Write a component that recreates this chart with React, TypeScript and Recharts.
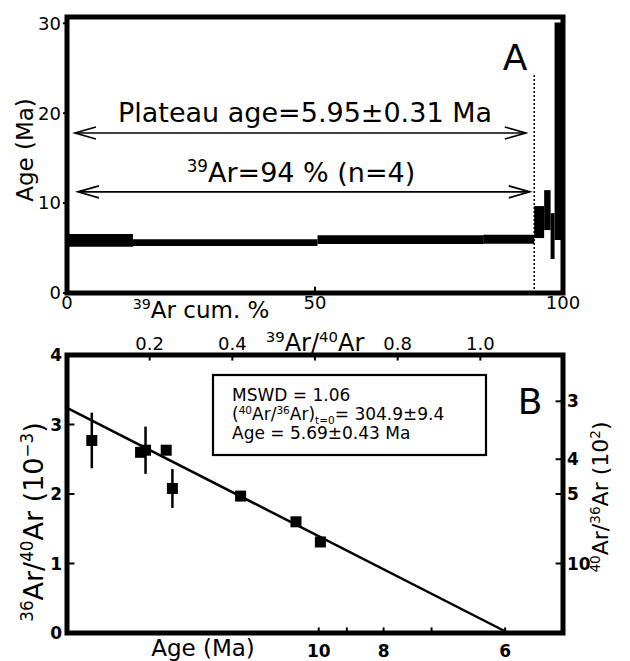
import React from 'react'
import { ComposedChart, XAxis, YAxis, ReferenceArea, ReferenceLine, Scatter, ErrorBar } from 'recharts'

const FONT = 'DejaVu Sans'

// Panel A – age spectrum steps (39Ar cum. %, age in Ma)
const stepStart = [0, 13.3, 50.5, 83.9, 94.2, 96.2, 97.5, 98.3]
const stepEnd = [13.3, 50.5, 83.9, 94.2, 96.2, 97.5, 98.3, 100]
const stepAge = [5.85, 5.6, 5.93, 5.98, 7.89, 9.22, 6.33, 18.0]
const stepErr = [0.7, 0.37, 0.48, 0.5, 1.78, 2.22, 2.55, 12.1]
const cumTicks = [0, 50, 100]
const ageTicksA = [0, 10, 20, 30]
const arrowAge = [17.8, 11.25]
const arrowFrom = [1.6, 2.2]
const arrowTo = [92.5, 93.3]
const plateauEnd = 94.2

// Panel B – isochron
const ratio39 = [0.06, 0.178, 0.19, 0.24, 0.255, 0.42, 0.554, 0.613]
const ratio36 = [2.77, 2.6, 2.63, 2.63, 2.08, 1.97, 1.6, 1.31]
const ratio36Err = [0.4, 0, 0.34, 0, 0.28, 0, 0, 0]
const fitIntercept = 3.24
const fitXIntercept = 1.068
const topTicks = [0.2, 0.4, 0.6, 0.8, 1.0]
const topLabels = ['0.2', '0.4', '', '0.8', '1.0']
const leftTicks = [0, 1, 2, 3, 4]
const ageTickPos = [0.609, 0.677, 0.766, 0.882, 1.06]
const ageTickLabels = ['10', '', '8', '', '6']
const ratioTicks = [3, 4, 5, 10]

const steps = stepStart.map((s, i) => ({ x1: s, x2: stepEnd[i], mid: (s + stepEnd[i]) / 2, age: stepAge[i], lo: stepAge[i] - stepErr[i], hi: stepAge[i] + stepErr[i] }))
const points = ratio39.map((x, i) => ({ x, y: ratio36[i], err: ratio36Err[i] }))
const ratioPos = ratioTicks.map((v) => 10 / v)

type Seg = [string, 'n' | 'sup' | 'sub']
const rich = (segs: Seg[], f: number) => {
  let cur = 0
  return segs.map(([t, k], i) => {
    const target = k === 'sup' ? -0.38 * f : k === 'sub' ? 0.25 * f : 0
    const dy = target - cur
    cur = target
    return <tspan key={i} dy={dy} fontSize={k === 'n' ? f : f * 0.62}>{t}</tspan>
  })
}

const arrowShape = (p: any) => {
  const { x1, y1, x2, y2 } = p
  const h = 21
  const w = 6
  return (
    <g stroke="#000" strokeWidth={1.6} fill="none">
      <line x1={x1} y1={y1} x2={x2} y2={y2} />
      <polyline points={`${x1 + h},${y1 - w} ${x1},${y1} ${x1 + h},${y1 + w}`} />
      <polyline points={`${x2 - h},${y2 - w} ${x2},${y2} ${x2 - h},${y2 + w}`} />
    </g>
  )
}

const square = (p: any) => <rect x={p.cx - 5.5} y={p.cy - 5.5} width={11} height={11} fill="#000" />
const nothing = () => <g />

const PanelA = () => (
  <ComposedChart width={630} height={325} data={steps} margin={{ top: 17, right: 67, bottom: 0, left: 0 }}>
    <XAxis type="number" dataKey="mid" domain={[0, 100]} ticks={cumTicks} height={32} tickLine={false} axisLine={false}
      tickSize={0} tickMargin={3} tick={{ fill: '#000', fontSize: 18, fontFamily: FONT }} />
    <YAxis type="number" dataKey="age" domain={[0, 30.7]} ticks={ageTicksA} width={67} axisLine={false} tickSize={4} tickMargin={2}
      tickLine={{ stroke: '#000', strokeWidth: 2 }} tick={{ fill: '#000', fontSize: 18, fontFamily: FONT }} />
    <Scatter data={steps} dataKey="age" shape={nothing} isAnimationActive={false} />
    {steps.map((s, i) => (
      <ReferenceArea key={i} x1={s.x1} x2={s.x2} y1={s.lo} y2={s.hi} fill="#000" fillOpacity={1} stroke="none" ifOverflow="visible" />
    ))}
    <ReferenceLine segment={[{ x: plateauEnd, y: 0 }, { x: plateauEnd, y: 24.4 }]} stroke="#000" strokeWidth={1.5} strokeDasharray="2 2" ifOverflow="visible" />
    {arrowAge.map((a, i) => (
      <ReferenceLine key={i} segment={[{ x: arrowFrom[i], y: a }, { x: arrowTo[i], y: a }]} shape={arrowShape} ifOverflow="visible" />
    ))}
    <ReferenceLine segment={[{ x: 50, y: 0 }, { x: 50, y: 0.7 }]} stroke="#000" strokeWidth={2} ifOverflow="visible" />
    <ReferenceArea x1={0} x2={100} y1={0} y2={30.7} fill="none" stroke="#000" strokeWidth={5} ifOverflow="visible" />
    <text x={305} y={122} textAnchor="middle" fontSize={27} fontFamily={FONT}>Plateau age=5.95±0.31 Ma</text>
    <text x={301} y={182} textAnchor="middle" fontSize={27} fontFamily={FONT}>{rich([['39', 'sup'], ['Ar=94 % (n=4)', 'n']], 27)}</text>
    <text x={515} y={70} textAnchor="middle" fontSize={36} fontFamily={FONT}>A</text>
    <text x={201} y={318} textAnchor="middle" fontSize={23} fontFamily={FONT}>{rich([['39', 'sup'], ['Ar cum. %', 'n']], 23)}</text>
    <text x={33} y={150} textAnchor="middle" fontSize={23} fontFamily={FONT} transform="rotate(-90 33 150)">Age (Ma)</text>
  </ComposedChart>
)

const PanelB = () => (
  <ComposedChart width={630} height={336} margin={{ top: 0, right: 0, bottom: 0, left: 0 }}>
    <XAxis xAxisId={0} type="number" dataKey="x" domain={[0, 1.2]} ticks={ageTickPos} height={28} tickLine={false} axisLine={false}
      tickSize={0} tickMargin={12} tickFormatter={(_v: number, i: number) => ageTickLabels[i]}
      tick={{ fill: '#000', fontSize: 17, fontWeight: 'bold', fontFamily: FONT }} />
    <XAxis xAxisId="top" orientation="top" type="number" dataKey="x" domain={[0, 1.2]} ticks={topTicks} height={30} tickLine={false} axisLine={false}
      tickSize={0} tickMargin={5} tickFormatter={(_v: number, i: number) => topLabels[i]}
      tick={{ fill: '#000', fontSize: 18, fontFamily: FONT }} />
    <YAxis yAxisId={0} type="number" dataKey="y" domain={[0, 4]} ticks={leftTicks} width={67} tickLine={false} axisLine={false}
      tickSize={0} tickMargin={5} tick={{ fill: '#000', fontSize: 17, fontWeight: 'bold', fontFamily: FONT }} />
    <YAxis yAxisId="r" orientation="right" type="number" dataKey="y" domain={[0, 4]} ticks={ratioPos} width={67} tickLine={false} axisLine={false}
      tickSize={0} tickMargin={4} tickFormatter={(_v: number, i: number) => String(ratioTicks[i])}
      tick={{ fill: '#000', fontSize: 17, fontWeight: 'bold', fontFamily: FONT }} />
    <Scatter data={points} dataKey="y" xAxisId="top" yAxisId="r" shape={nothing} isAnimationActive={false} />
    <ReferenceLine segment={[{ x: 0, y: fitIntercept }, { x: fitXIntercept, y: 0 }]} stroke="#000" strokeWidth={2.5} ifOverflow="visible" />
    <Scatter data={points} dataKey="y" shape={square} isAnimationActive={false}>
      <ErrorBar dataKey="err" direction="y" width={0} stroke="#000" strokeWidth={2.5} />
    </Scatter>
    {topTicks.map((t) => (
      <ReferenceLine key={'t' + t} segment={[{ x: t, y: 4 }, { x: t, y: 3.92 }]} stroke="#000" strokeWidth={2} ifOverflow="visible" />
    ))}
    {ageTickPos.map((t) => (
      <ReferenceLine key={'b' + t} segment={[{ x: t, y: 0 }, { x: t, y: 0.08 }]} stroke="#000" strokeWidth={2} ifOverflow="visible" />
    ))}
    {leftTicks.slice(1, 4).map((t) => (
      <ReferenceLine key={'l' + t} segment={[{ x: 0, y: t }, { x: 0.018, y: t }]} stroke="#000" strokeWidth={2} ifOverflow="visible" />
    ))}
    {ratioPos.map((t) => (
      <ReferenceLine key={'r' + t} segment={[{ x: 1.2, y: t }, { x: 1.182, y: t }]} stroke="#000" strokeWidth={2} ifOverflow="visible" />
    ))}
    <ReferenceArea x1={0} x2={1.2} y1={0} y2={4} fill="none" stroke="#000" strokeWidth={5} ifOverflow="visible" />
    <rect x={213} y={50} width={273} height={80} fill="#fff" stroke="#000" strokeWidth={2.2} />
    <text x={232} y={76} fontSize={17} fontFamily={FONT}>MSWD = 1.06</text>
    <text x={232} y={95} fontSize={17} fontFamily={FONT}>
      {rich([['(', 'n'], ['40', 'sup'], ['Ar/', 'n'], ['36', 'sup'], ['Ar)', 'n'], ['t=0', 'sub'], ['= 304.9±9.4', 'n']], 17)}
    </text>
    <text x={232} y={114} fontSize={17} fontFamily={FONT}>Age = 5.69±0.43 Ma</text>
    <text x={530} y={89} textAnchor="middle" fontSize={36} fontFamily={FONT}>B</text>
    <text x={315} y={26} textAnchor="middle" fontSize={24} fontFamily={FONT}>{rich([['39', 'sup'], ['Ar/', 'n'], ['40', 'sup'], ['Ar', 'n']], 24)}</text>
    <text x={203} y={331} textAnchor="middle" fontSize={23} fontFamily={FONT}>Age (Ma)</text>
    <text x={43} y={197} textAnchor="middle" fontSize={27} fontFamily={FONT} transform="rotate(-90 43 197)">
      {rich([['36', 'sup'], ['Ar/', 'n'], ['40', 'sup'], ['Ar (10', 'n'], ['−3', 'sup'], [')', 'n']], 27)}
    </text>
    <text x={608} y={172} textAnchor="middle" fontSize={22} fontFamily={FONT} transform="rotate(-90 608 172)">
      {rich([['40', 'sup'], ['Ar/', 'n'], ['36', 'sup'], ['Ar (10', 'n'], ['2', 'sup'], [')', 'n']], 22)}
    </text>
  </ComposedChart>
)

export default function App() {
  return (
    <div style={{ position: 'absolute', left: 0, top: 0, width: 630, height: 661, background: '#fff' }}>
      <PanelA />
      <PanelB />
    </div>
  )
}
